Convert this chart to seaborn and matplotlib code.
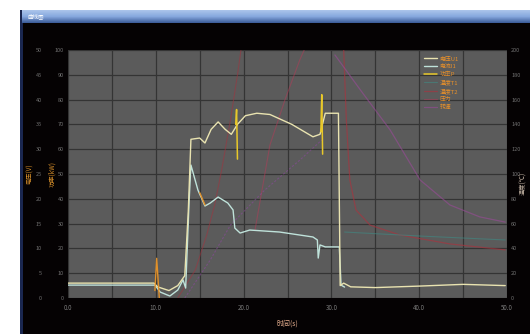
import numpy as np
import pandas as pd
import matplotlib
matplotlib.use("Agg")
import matplotlib.pyplot as plt
from matplotlib.patches import Rectangle
import seaborn as sns

sns.set_theme(style="dark")
plt.rcParams['font.family'] = ['Noto Sans CJK SC', 'DejaVu Sans']

# ---- data ---------------------------------------------------------------
# main (high) trace
hi_x = [0, 9.8, 10.2, 11.5, 12.5, 13.3, 13.7, 14.0, 15.0, 15.6, 16.3, 17.1, 17.9, 18.6,
        19.3, 20.2, 21.5, 23.0, 25.5, 27.9, 28.7, 29.3, 30.8, 31.0, 31.4, 32.2, 35, 40, 45, 49.8]
hi_y = [0.6, 0.6, 0.45, 0.3, 0.5, 0.9, 3.5, 6.4, 6.45, 6.25, 6.8, 7.1, 6.8, 6.6,
        7.0, 7.35, 7.45, 7.4, 7.0, 6.5, 6.6, 7.45, 7.45, 0.5, 0.6, 0.45, 0.42, 0.48, 0.55, 0.5]

# lower trace
lo_x = [0, 9.9, 10.5, 11.6, 12.5, 13.1, 13.4, 13.8, 14.0, 14.8, 15.6, 16.2, 17.1, 18.2,
        18.8, 19.0, 19.6, 20.7, 24.1, 27.9, 28.4, 28.5, 28.7, 29.3, 30.9, 31.1, 31.5]
lo_y = [0.52, 0.52, 0.24, 0.08, 0.32, 0.73, 0.40, 3.95, 5.36, 4.35, 3.71, 3.83, 4.07, 3.83,
        3.55, 2.82, 2.62, 2.74, 2.66, 2.46, 2.34, 1.61, 2.14, 2.06, 2.06, 0.52, 0.44]

# yellow spikes (segment id, x, y)
sp_id = [0, 0, 0, 1, 1, 1]
sp_x = [19.1, 19.2, 19.3, 28.8, 28.9, 29.0]
sp_y = [7.0, 7.6, 5.6, 6.7, 8.2, 5.8]

# orange marks
or_id = [0, 0, 0, 1, 1]
or_x = [9.9, 10.1, 10.4, 15.0, 15.6]
or_y = [0.3, 1.6, 0.0, 4.25, 3.75]

# faint rising / decaying traces
r1_x = [12.5, 14.5, 15.8, 16.7, 17.5, 18.5, 19.3, 19.7]
r1_y = [0, 1.13, 2.54, 3.75, 5.16, 7.18, 8.99, 10]
r2_x = [21.3, 23.0, 24.7, 26.4, 26.9]
r2_y = [2.74, 6.17, 7.98, 9.6, 10]
r3_x = [31.4, 31.7, 32.1, 32.8, 34.4, 37.8, 43.5, 49.8]
r3_y = [10, 7.18, 4.76, 3.55, 2.94, 2.54, 2.18, 1.94]
p1_x = [13.3, 16.2, 18.5, 22.4, 26.4, 28.9]
p1_y = [0, 1.53, 2.94, 4.35, 5.56, 6.37]
p2_x = [30.4, 33.3, 36.7, 40.1, 43.5, 46.9, 49.8]
p2_y = [9.8, 8.39, 6.77, 4.76, 3.75, 3.27, 3.06]
t1_x = [31.5, 40.0, 49.8]
t1_y = [2.66, 2.5, 2.34]

x_ticks = [0, 10, 20, 30, 40, 50]
x_tick_labels = ["0.0", "10.0", "20.0", "30.0", "40.0", "50.0"]
left_in_labels = [str(v) for v in range(0, 101, 10)]
left_out_labels = [str(v) for v in range(0, 51, 5)]
right_labels = [str(v) for v in range(0, 201, 20)]
legend_labels = ["电压U1", "电流I1", "功率P", "温度T1", "温度T2", "压力", "转速"]

# ---- figure -------------------------------------------------------------
W, H = 530, 334
fig = plt.figure(figsize=(W / 100, H / 100), dpi=100, facecolor="white")

# window body and title bar
fig.add_artist(Rectangle((20 / W, 0), 510 / W, (H - 22) / H, transform=fig.transFigure,
                         facecolor="#050203", edgecolor="none", zorder=-10))
fig.add_artist(Rectangle((20 / W, 0), 2.5 / W, (H - 10) / H, transform=fig.transFigure,
                         facecolor="#1a2750", edgecolor="none", zorder=-9))
tb = fig.add_axes([22 / W, (H - 23) / H, 508 / W, 13 / H])
grad = np.linspace(0, 1, 13)[:, None]
tb.imshow(grad, aspect="auto", cmap=matplotlib.colors.LinearSegmentedColormap.from_list(
    "tb", ["#a9c3ea", "#86a8de", "#3f5f9c"]), extent=[0, 1, 0, 1])
tb.set_axis_off()
tb.text(0.01, 0.5, "曲线图", color="white", fontsize=4, va="center", ha="left",
        transform=tb.transAxes)

ax = fig.add_axes([68 / W, 36 / H, 439 / W, 248 / H])
ax.set_facecolor("#5b5b5b")
ax.set_xlim(0, 50)
ax.set_ylim(0, 10)
ax.set_yticks(np.arange(0, 10.1, 1))
for s in ax.spines.values():
    s.set_visible(False)

lw = 1.0
sns.lineplot(x=r1_x, y=r1_y, ax=ax, color="#a8303c", lw=0.8, alpha=0.5, sort=False, estimator=None)
sns.lineplot(x=r2_x, y=r2_y, ax=ax, color="#b83a58", lw=0.8, alpha=0.5, sort=False, estimator=None,
             label=legend_labels[5])
sns.lineplot(x=r3_x, y=r3_y, ax=ax, color="#b0303c", lw=0.9, alpha=0.6, sort=False, estimator=None,
             label=legend_labels[4])
sns.lineplot(x=p1_x, y=p1_y, ax=ax, color="#8a4a9a", lw=0.8, alpha=0.6, sort=False, estimator=None,
             linestyle=(0, (2, 1.5)))
sns.lineplot(x=p2_x, y=p2_y, ax=ax, color="#9a4a98", lw=0.9, alpha=0.6, sort=False, estimator=None,
             label=legend_labels[6])
sns.lineplot(x=t1_x, y=t1_y, ax=ax, color="#3f8a84", lw=0.8, alpha=0.6, sort=False, estimator=None,
             label=legend_labels[3])
sns.lineplot(x=lo_x, y=lo_y, ax=ax, color="#bfe2da", lw=lw, sort=False, estimator=None,
             label=legend_labels[1])
sns.lineplot(x=hi_x, y=hi_y, ax=ax, color="#e9e3b0", lw=lw, sort=False, estimator=None,
             label=legend_labels[0])
sp = pd.DataFrame({"seg": sp_id, "x": sp_x, "y": sp_y})
sns.lineplot(data=sp, x="x", y="y", units="seg", estimator=None, sort=False, ax=ax,
             color="#e8c82a", lw=1.1, label=legend_labels[2])
orr = pd.DataFrame({"seg": or_id, "x": or_x, "y": or_y})
sns.lineplot(data=orr, x="x", y="y", units="seg", estimator=None, sort=False, ax=ax,
             color="#e0902a", lw=1.0)

# legend (one entry per label, in display order)
handles, labels = ax.get_legend_handles_labels()
by_label = {}
for h, l in zip(handles, labels):
    by_label.setdefault(l, h)
shown = [l for l in legend_labels if l in by_label]
leg = ax.legend([by_label[l] for l in shown], shown, loc="upper left",
                bbox_to_anchor=(0.805, 0.985), frameon=False, fontsize=4.2,
                labelcolor="#e8902a", handlelength=2.2, handletextpad=0.5,
                labelspacing=0.45, borderaxespad=0)

# x axis and grid
ax.set_xticks(x_ticks)
ax.set_xticks(np.arange(5, 50, 10), minor=True)
ax.set_xticklabels(x_tick_labels)
ax.grid(True, which="major", color="#343434", linewidth=0.9)
ax.grid(True, which="minor", axis="x", color="#343434", linewidth=0.9)
ax.set_axisbelow(True)
ax.tick_params(axis="x", which="both", colors="#7a7a7a", labelsize=4.5, length=0, pad=4)
ax.set_xlabel("时间(s)", color="#e8b090", fontsize=5, labelpad=6)
ax.set_ylabel("")

# inner left axis
ax.set_yticklabels(left_in_labels)
ax.tick_params(axis="y", colors="#707070", labelsize=4, length=0, pad=3)
fig.text(52 / W, 0.48, "功率(kW)", rotation=90, color="#d9902a", fontsize=4.5,
         ha="center", va="center")

# outer left axis
ax2 = ax.twinx()
ax2.set_ylim(0, 10)
ax2.yaxis.set_ticks_position("left")
ax2.spines["left"].set_position(("outward", 16))
ax2.set_yticks(np.arange(0, 10.1, 1))
ax2.set_yticklabels(left_out_labels)
ax2.tick_params(axis="y", colors="#707070", labelsize=4, length=0, pad=3)
for s in ax2.spines.values():
    s.set_visible(False)
ax2.grid(False)
fig.text(30 / W, 0.48, "电压(V)", rotation=90, color="#d9902a", fontsize=4.5,
         ha="center", va="center")

# right axis
ax3 = ax.twinx()
ax3.set_ylim(0, 10)
ax3.set_yticks(np.arange(0, 10.1, 1))
ax3.set_yticklabels(right_labels)
ax3.tick_params(axis="y", colors="#707070", labelsize=4, length=0, pad=3)
for s in ax3.spines.values():
    s.set_visible(False)
ax3.grid(False)
fig.text(523 / W, 0.45, "温度(℃)", rotation=90, color="#c8b8a8", fontsize=4.5,
         ha="center", va="center")

fig.savefig("out.png", dpi=100, facecolor="white")
